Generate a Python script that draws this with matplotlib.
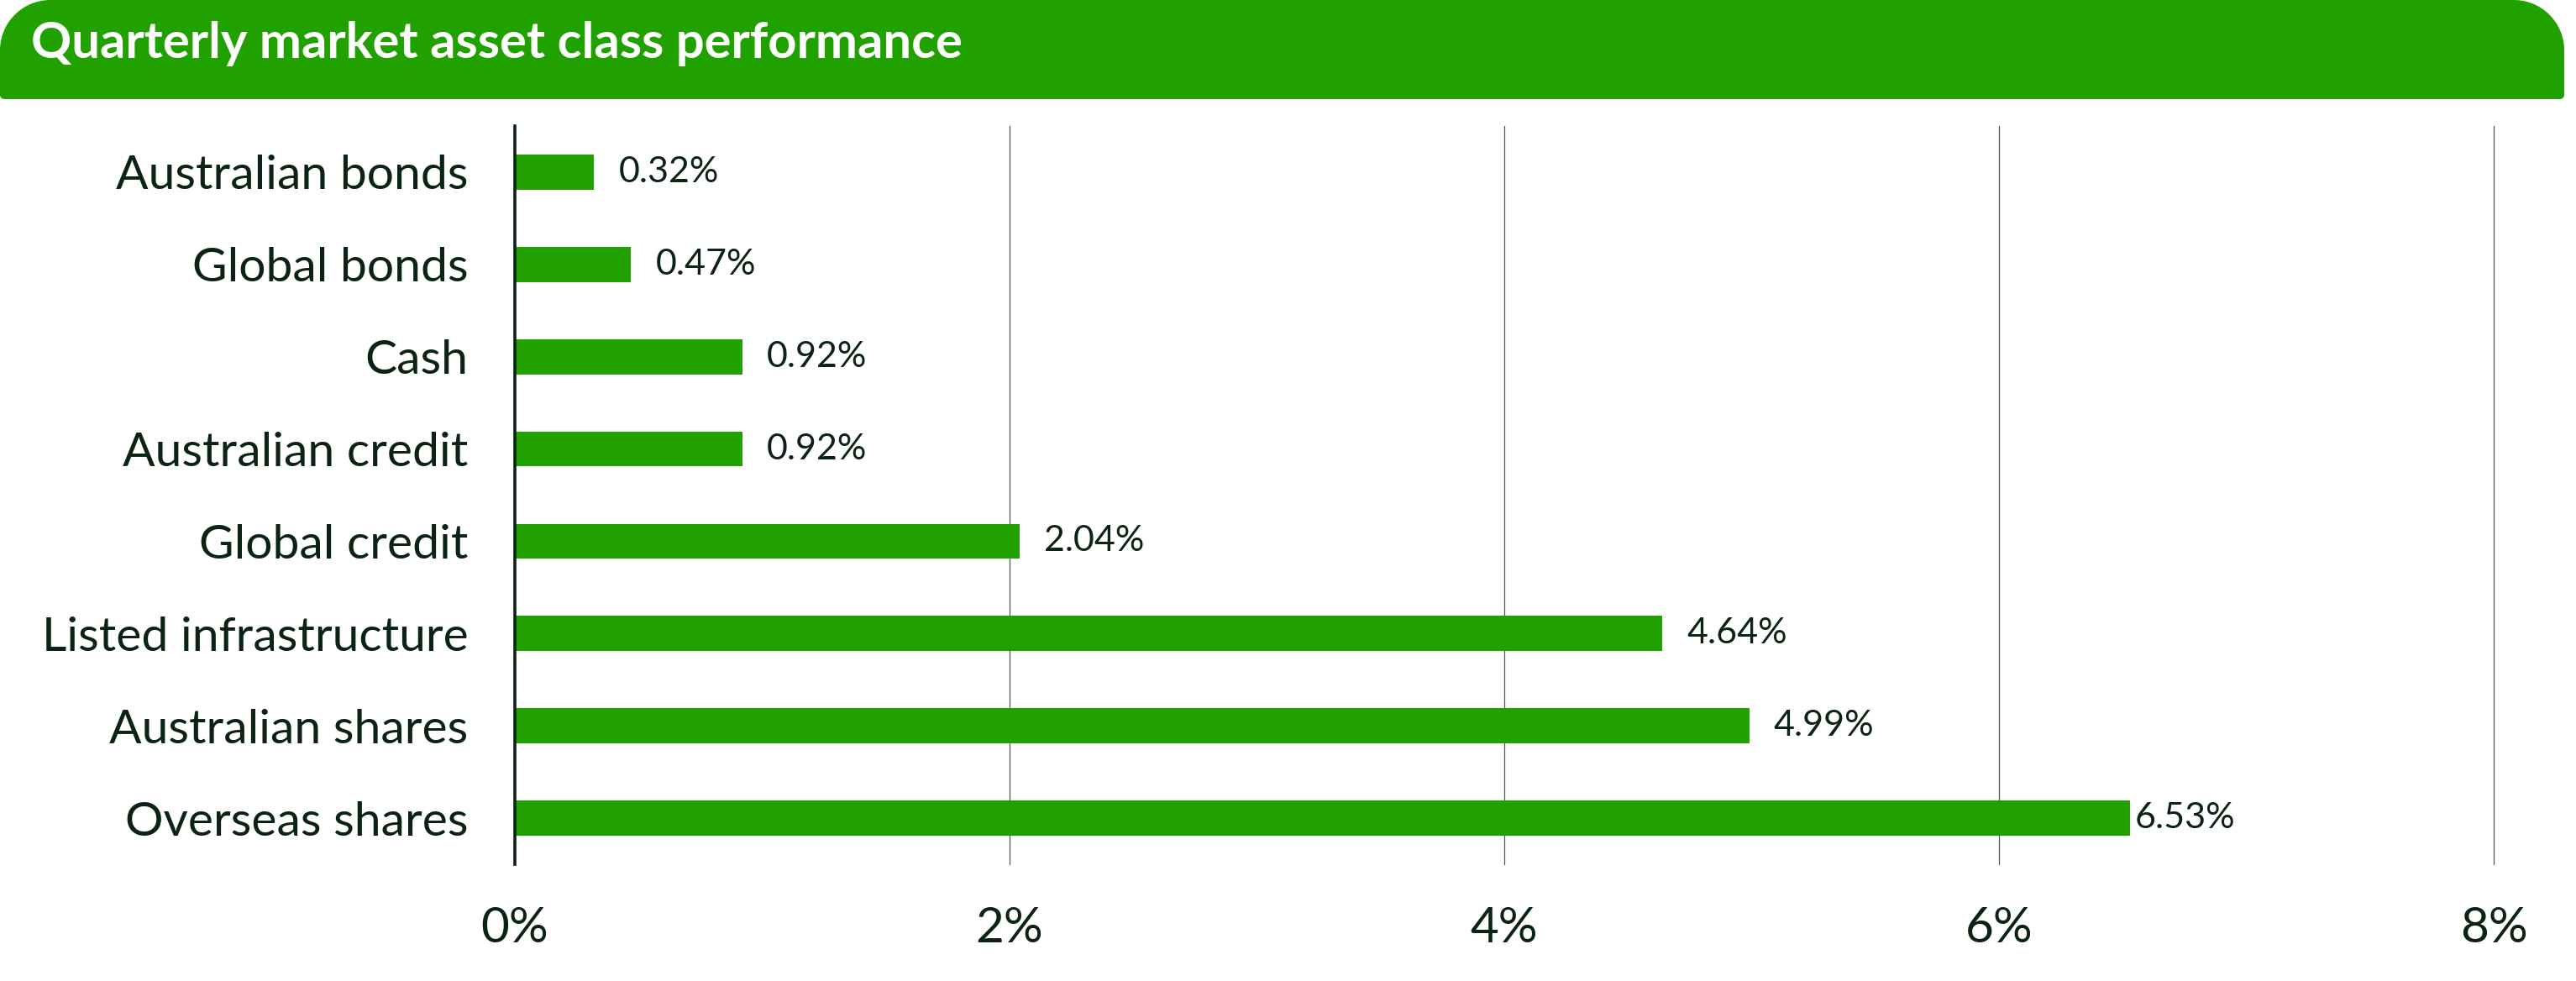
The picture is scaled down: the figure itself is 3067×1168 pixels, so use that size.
import matplotlib
matplotlib.use("Agg")
import matplotlib.pyplot as plt
import numpy as np
from matplotlib.patches import PathPatch
from matplotlib.path import Path

categories = ["Australian bonds", "Global bonds", "Cash", "Australian credit",
              "Global credit", "Listed infrastructure", "Australian shares", "Overseas shares"]
values = [0.32, 0.47, 0.92, 0.92, 2.04, 4.64, 4.99, 6.53]
value_labels = ["0.32%", "0.47%", "0.92%", "0.92%", "2.04%", "4.64%", "4.99%", "6.53%"]
xticks = [0, 2, 4, 6, 8]
xtick_labels = ["0%", "2%", "4%", "6%", "8%"]
title = "Quarterly market asset class performance"

GREEN = "#21a100"
TEXT = "#0b2312"
FONT = ["Lato", "DejaVu Sans"]
plt.rcParams["font.family"] = FONT

W, H = 3067, 1168
fig = plt.figure(figsize=(W / 100, H / 100), dpi=100)

# Title band in pixel coordinates
bg = fig.add_axes([0, 0, 1, 1])
bg.set_xlim(0, W)
bg.set_ylim(H, 0)
bg.axis("off")

def band_path(x0, x1, y0, y1, rt, rb):
    pts = []
    def arc(cx, cy, r, a0, a1):
        for a in np.linspace(a0, a1, 30):
            pts.append((cx + r * np.cos(a), cy - r * np.sin(a)))
    arc(x0 + rt, y0 + rt, rt, np.pi, np.pi / 2)
    arc(x1 - rt, y0 + rt, rt, np.pi / 2, 0)
    arc(x1 - rb, y1 - rb, rb, 0, -np.pi / 2)
    arc(x0 + rb, y1 - rb, rb, -np.pi / 2, -np.pi)
    pts.append(pts[0])
    codes = [Path.MOVETO] + [Path.LINETO] * (len(pts) - 2) + [Path.CLOSEPOLY]
    return Path(pts, codes)

bg.add_patch(PathPatch(band_path(0, 3053, 0, 118, 60, 5), facecolor=GREEN, edgecolor="none"))
bg.text(37, 52, title, color="white", fontsize=43, fontweight="bold",
        ha="left", va="center", family=FONT)

ax = fig.add_axes([613 / W, 1 - 1029 / H, (2969 - 613) / W, (1029 - 150) / H])
y = np.arange(len(categories))
ax.barh(y, values, height=0.38, color=GREEN, zorder=3)
ax.set_xlim(0, 8)
ax.set_ylim(len(categories) - 0.5, -0.5)
ax.set_xticks(xticks)
ax.set_xticklabels(xtick_labels, fontsize=42, color=TEXT)
ax.set_yticks(y)
ax.set_yticklabels(categories, fontsize=41, color=TEXT)
ax.tick_params(axis="x", length=0, pad=36)
ax.tick_params(axis="y", length=0, pad=40)
ax.grid(axis="x", color="#555555", linewidth=0.9, zorder=0)
for gl in ax.get_xgridlines():
    gl.set_clip_on(False)
for s in ["top", "right", "bottom"]:
    ax.spines[s].set_visible(False)
ax.spines["left"].set_color(TEXT)
ax.spines["left"].set_linewidth(2.6)
ax.spines["left"].set_zorder(4)

vmax = max(values)
for yi, v, lab in zip(y, values, value_labels):
    off = 4 if v == vmax else 21
    ax.annotate(lab, xy=(v, yi), xytext=(off, 0), textcoords="offset points",
                ha="left", va="center", fontsize=31, color=TEXT)

fig.savefig("out.png", dpi=100)
